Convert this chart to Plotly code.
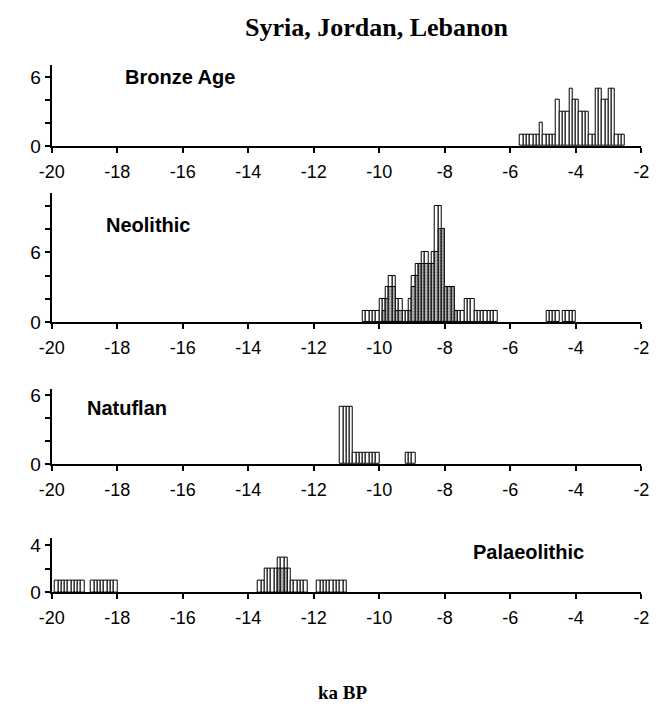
import plotly.graph_objects as go

# Radiocarbon date histograms (ka BP, 0.1 ka bins) for the Levant
BIN = 0.1

bronze_x = [-5.65, -5.55, -5.45, -5.35, -5.25, -5.15, -5.05, -4.95, -4.85, -4.75, -4.65,
            -4.55, -4.45, -4.35, -4.25, -4.15, -4.05, -3.95, -3.85, -3.75, -3.65, -3.55,
            -3.45, -3.35, -3.25, -3.15, -3.05, -2.95, -2.85, -2.75, -2.65, -2.55]
bronze_n = [1, 1, 1, 1, 1, 1, 2, 1, 1, 1, 1,
            4, 3, 3, 3, 5, 4, 4, 3, 3, 3, 1,
            1, 5, 5, 4, 4, 5, 5, 1, 1, 1]

neo_x = [-10.45, -10.35, -10.25, -10.15, -10.05, -9.95, -9.85, -9.75, -9.65, -9.55,
         -9.45, -9.35, -9.25, -9.15, -9.05, -8.95, -8.85, -8.75, -8.65, -8.55,
         -8.45, -8.35, -8.25, -8.15, -8.05, -7.95, -7.85, -7.75, -7.65, -7.55,
         -7.45, -7.35, -7.25, -7.15, -7.05, -6.95, -6.85, -6.75, -6.65, -6.55, -6.45,
         -4.85, -4.75, -4.65, -4.55, -4.35, -4.25, -4.15, -4.05]
neo_n = [1, 1, 1, 1, 1, 2, 2, 3, 4, 4,
         2, 2, 1, 1, 2, 4, 5, 5, 6, 6,
         5, 6, 10, 10, 8, 3, 3, 3, 1, 1,
         1, 2, 2, 2, 1, 1, 1, 1, 1, 1, 1,
         1, 1, 1, 1, 1, 1, 1, 1]

# stippled subset within the Neolithic dates
neo_sub_x = [-9.85, -9.75, -9.65, -9.55, -9.45, -9.35, -9.05, -8.95, -8.85, -8.75,
             -8.65, -8.55, -8.45, -8.35, -8.25, -8.15, -8.05, -7.95, -7.85, -7.75, -7.65]
neo_sub_n = [1, 2, 3, 3, 1, 1, 1, 3, 4, 5,
             5, 5, 5, 5, 6, 8, 8, 3, 3, 3, 1]

natuf_x = [-11.15, -11.05, -10.95, -10.85, -10.75, -10.65, -10.55, -10.45, -10.35,
           -10.25, -10.15, -10.05, -9.15, -9.05, -8.95]
natuf_n = [5, 5, 5, 5, 1, 1, 1, 1, 1, 1, 1, 1, 1, 1, 1]

palaeo_x = [-19.85, -19.75, -19.65, -19.55, -19.45, -19.35, -19.25, -19.15, -19.05,
            -18.75, -18.65, -18.55, -18.45, -18.35, -18.25, -18.15, -18.05,
            -13.65, -13.55, -13.45, -13.35, -13.25, -13.15, -13.05, -12.95, -12.85,
            -12.75, -12.65, -12.55, -12.45, -12.35, -12.25,
            -11.85, -11.75, -11.65, -11.55, -11.45, -11.35, -11.25, -11.15, -11.05]
palaeo_n = [1, 1, 1, 1, 1, 1, 1, 1, 1,
            1, 1, 1, 1, 1, 1, 1, 1,
            1, 1, 2, 2, 2, 2, 3, 3, 3,
            2, 1, 1, 1, 1, 1,
            1, 1, 1, 1, 1, 1, 1, 1, 1]
palaeo_sub_x = [-13.05, -12.95, -12.85]
palaeo_sub_n = [2, 2, 2]

x_ticks = list(range(-20, -1, 2))
x_ticktext = [str(v) for v in x_ticks]

panel_names = ["Bronze Age", "Neolithic", "Natuflan", "Palaeolithic"]
title_text = "Syria, Jordan, Lebanon"
xlabel_text = "ka BP"

W, H = 661, 717
X0, X1 = 40, 649          # plot left / right edge (px)
# (baseline px, top px, px per unit, y tick values, y tick texts) for each panel
panels = [
    (145, 62, 11.7, [0, 2, 4, 6], ["0", "", "", "6"]),
    (325, 193, 11.9, [0, 2, 4, 6, 8, 10], ["0", "", "", "6", "", ""]),
    (470, 393, 11.7, [0, 2, 4, 6], ["0", "", "", "6"]),
    (601, 545, 12.0, [0, 2, 4], ["0", "", "4"]),
]

def fy(px):
    return 1 - px / H

FONT = "Arial, Liberation Sans, sans-serif"
SERIF = "Times New Roman, Liberation Serif, serif"

fig = go.Figure()

def add_bars(x, n, k, fill="white", pattern=None):
    marker = dict(color=fill, line=dict(color="black", width=1))
    if pattern:
        marker["pattern"] = pattern
    fig.add_trace(go.Bar(x=x, y=n, width=BIN, marker=marker,
                         xaxis=f"x{k}" if k > 1 else "x",
                         yaxis=f"y{k}" if k > 1 else "y",
                         showlegend=False, hoverinfo="x+y"))

stipple = dict(shape=".", fgcolor="#555555", bgcolor="#bdbdbd", size=3, solidity=0.4)

add_bars(bronze_x, bronze_n, 1)
add_bars(neo_x, neo_n, 2)
add_bars(neo_sub_x, neo_sub_n, 2, fill="#bdbdbd", pattern=stipple)
add_bars(natuf_x, natuf_n, 3)
add_bars(palaeo_x, palaeo_n, 4)
add_bars(palaeo_sub_x, palaeo_sub_n, 4, fill="#bdbdbd", pattern=stipple)

layout = dict(
    width=W, height=H,
    margin=dict(l=0, r=0, t=0, b=0),
    paper_bgcolor="white", plot_bgcolor="white",
    barmode="overlay", bargap=0,
    font=dict(family=FONT, color="black"),
)

for i, (base, top, ppu, yt, ytt) in enumerate(panels, start=1):
    sfx = "" if i == 1 else str(i)
    layout[f"xaxis{sfx}"] = dict(
        domain=[X0 / W, X1 / W], range=[-20, -2], anchor=f"y{sfx}",
        tickmode="array", tickvals=x_ticks, ticktext=x_ticktext,
        ticks="outside", ticklen=5, tickwidth=1.5, tickcolor="black",
        ticklabelstandoff=3,
        showline=True, linecolor="black", linewidth=2,
        showgrid=False, zeroline=False,
        tickfont=dict(family=FONT, size=18, color="black"),
    )
    layout[f"yaxis{sfx}"] = dict(
        domain=[fy(base), fy(top)], range=[0, (base - top) / ppu],
        anchor=f"x{sfx}",
        tickmode="array", tickvals=yt, ticktext=ytt,
        ticks="outside", ticklen=5, tickwidth=1.5, tickcolor="black",
        showline=True, linecolor="black", linewidth=2,
        showgrid=False, zeroline=False,
        tickfont=dict(family=FONT, size=19, color="black"),
    )

fig.update_layout(**layout)

label_pos = [(172, 75), (139, 226), (118, 413), (532, 560)]
for name, (px, py) in zip(panel_names, label_pos):
    fig.add_annotation(text=name, x=px / W, y=fy(py), xref="paper", yref="paper",
                       showarrow=False, xanchor="center", yanchor="middle",
                       font=dict(family=FONT, size=20, color="black", weight="bold"))

fig.add_annotation(text=f"<b>{title_text}</b>", x=375 / W, y=fy(24), xref="paper", yref="paper",
                   showarrow=False, xanchor="center", yanchor="middle",
                   font=dict(family=SERIF, size=26, color="black"))
fig.add_annotation(text=f"<b>{xlabel_text}</b>", x=340 / W, y=fy(703), xref="paper", yref="paper",
                   showarrow=False, xanchor="center", yanchor="middle",
                   font=dict(family=SERIF, size=19, color="black"))

fig.write_html("out.html")
